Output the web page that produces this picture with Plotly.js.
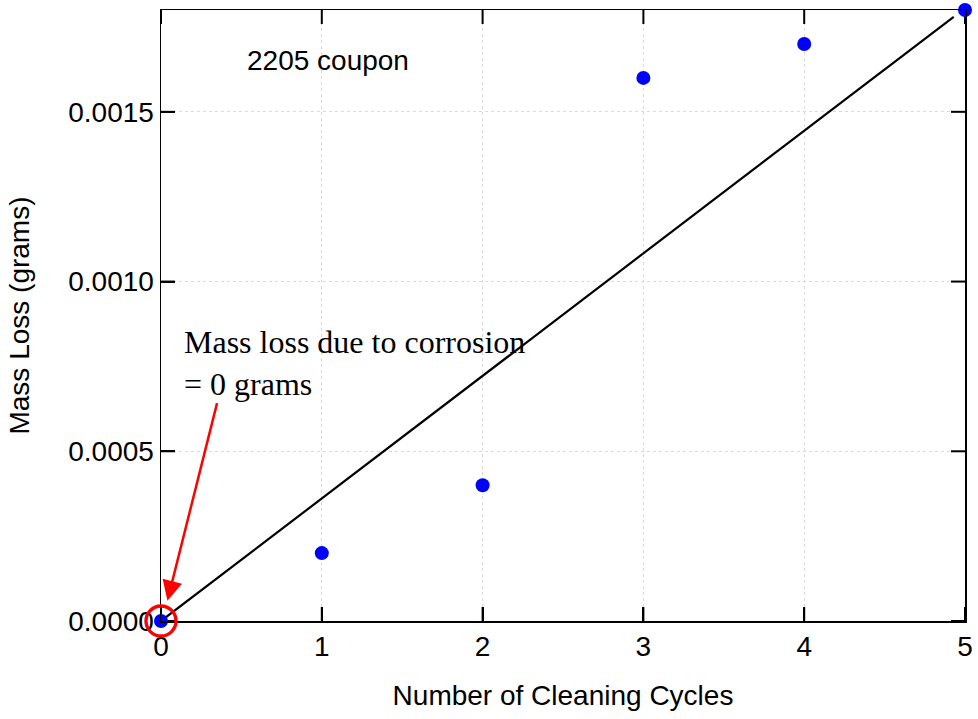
<!DOCTYPE html>
<html>
<head>
<meta charset="utf-8">
<script src="https://cdn.plot.ly/plotly-3.0.1.min.js"></script>
<style>html,body{margin:0;padding:0;background:#fff;}#chart{width:978px;height:719px;}</style>
</head>
<body>
<div id="chart"></div>
<script>
const cycles = [0, 1, 2, 3, 4, 5];
const massLoss = [0, 0.0002, 0.0004, 0.0016, 0.0017, 0.0018];
const fitX = [0, 4.93];
const fitY = [0, 0.00178];
const xTicks = [0, 1, 2, 3, 4, 5];
const yTicks = [0, 0.0005, 0.0010, 0.0015];
const yTickLabels = ["0.0000", "0.0005", "0.0010", "0.0015"];

const W = 978, H = 719, M = {l: 161, r: 13, t: 10, b: 98};
const xRange = [0, 5], yRange = [0, 0.0018];
const TL = 14;
const dx = TL / (W - M.l - M.r) * (xRange[1] - xRange[0]);
const dy = TL / (H - M.t - M.b) * (yRange[1] - yRange[0]);
const tx = [], ty = [];
xTicks.forEach(v => {
  tx.push(v, v, null, v, v, null);
  ty.push(yRange[0], yRange[0] + dy, null, yRange[1], yRange[1] - dy, null);
});
yTicks.forEach(v => {
  tx.push(xRange[0], xRange[0] + dx, null, xRange[1], xRange[1] - dx, null);
  ty.push(v, v, null, v, v, null);
});

const traces = [
  {x: tx, y: ty, mode: 'lines', line: {color: '#000', width: 2}, hoverinfo: 'skip', connectgaps: false},
  {x: fitX, y: fitY, mode: 'lines', line: {color: '#000', width: 2.2}, hoverinfo: 'skip', cliponaxis: false},
  {x: cycles, y: massLoss, mode: 'markers', marker: {color: '#0000ff', size: 14}, cliponaxis: false}
];

const axFont = {family: 'Liberation Sans, Arial, sans-serif', size: 28, color: '#000'};
const layout = {
  width: W, height: H,
  margin: M,
  showlegend: false,
  paper_bgcolor: '#fff', plot_bgcolor: '#fff',
  font: axFont,
  xaxis: {
    range: xRange, tickvals: xTicks, ticks: 'inside', ticklen: TL, tickwidth: 2, tickcolor: '#000',
    showline: true, linecolor: '#000', linewidth: 1.5, mirror: true,
    showgrid: true, gridcolor: '#dadada', griddash: 'dot', gridwidth: 1,
    zeroline: false, tickfont: axFont,
    title: {text: 'Number of Cleaning Cycles', font: axFont, standoff: 24}
  },
  yaxis: {
    range: yRange, tickvals: yTicks, ticktext: yTickLabels, ticks: 'inside', ticklen: TL, tickwidth: 2, tickcolor: '#000',
    showline: true, linecolor: '#000', linewidth: 1.5, mirror: true,
    showgrid: true, gridcolor: '#dadada', griddash: 'dot', gridwidth: 1,
    zeroline: false, tickfont: axFont,
    title: {text: 'Mass Loss (grams)', font: axFont, standoff: 30}
  },
  shapes: [
    {type: 'circle', xref: 'paper', yref: 'paper', xsizemode: 'pixel', ysizemode: 'pixel',
     xanchor: 0, yanchor: 0, x0: -15, x1: 15, y0: -15, y1: 15,
     line: {color: '#ff0000', width: 3.4}, layer: 'above'}
  ],
  annotations: [
    {x: 0.52, y: 0.00165, xref: 'x', yref: 'y', text: '2205 coupon', showarrow: false,
     xanchor: 'left', yanchor: 'middle', font: axFont},
    {x: 0.13, y: 0.00088, xref: 'x', yref: 'y', text: 'Mass loss due to corrosion<br>= 0 grams',
     showarrow: false, xanchor: 'left', yanchor: 'top', align: 'left',
     font: {family: 'Liberation Serif, Times New Roman, serif', size: 32, color: '#000'}},
    {x: 0.04, y: 0.00006, xref: 'x', yref: 'y', text: '', showarrow: true,
     ax: 50, ay: -199, arrowhead: 2, arrowsize: 1.6, arrowwidth: 2.5, arrowcolor: '#ff0000', standoff: 0}
  ]
};

Plotly.newPlot('chart', traces, layout, {displayModeBar: false, staticPlot: true});
</script>
</body>
</html>
